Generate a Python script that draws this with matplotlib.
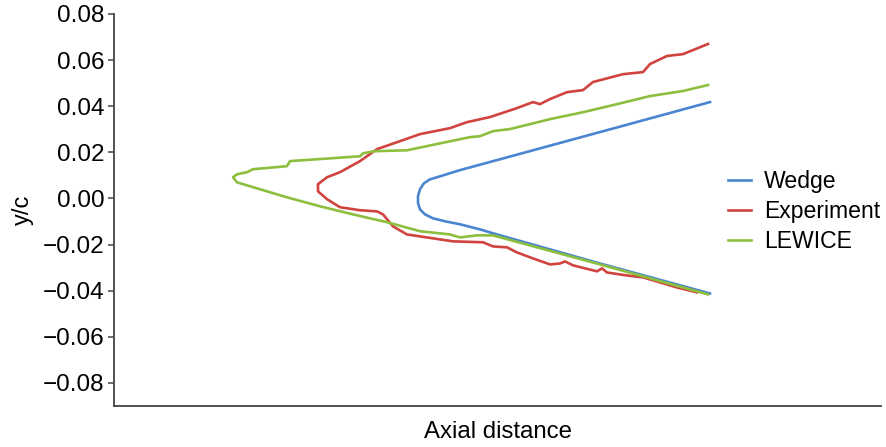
import matplotlib
matplotlib.use("Agg")
import matplotlib.pyplot as plt

plt.rcParams['font.family'] = ['Liberation Sans', 'DejaVu Sans']

# Wedge contour
wedge_x = [596, 486, 386, 346, 326, 316, 310, 306, 304, 304, 306, 311, 319, 331, 346, 366, 383, 486, 596]
wedge_y = [0.0418, 0.0288, 0.0170, 0.0123, 0.0096, 0.0083, 0.0066, 0.0040, 0.0010, -0.0021,
           -0.0047, -0.0069, -0.0086, -0.0099, -0.0112, -0.0134, -0.0156, -0.0282, -0.0412]

# Experiment ice shape
exp_x = [594, 569, 553, 536, 529, 509, 479, 469, 453, 436, 426, 419, 403, 376, 353, 336, 306, 283,
         263, 246, 226, 213, 204, 204, 213, 226, 246, 263, 269, 279, 293, 313, 339, 369, 379, 393,
         403, 419, 436, 446, 451, 459, 483, 488, 493, 513, 529, 543, 563, 583]
exp_y = [0.0670, 0.0626, 0.0618, 0.0583, 0.0548, 0.0539, 0.0505, 0.0470, 0.0461, 0.0431, 0.0409,
         0.0418, 0.0392, 0.0353, 0.0331, 0.0305, 0.0279, 0.0244, 0.0214, 0.0162, 0.0114, 0.0092,
         0.0062, 0.0031, -0.0003, -0.0038, -0.0051, -0.0056, -0.0069, -0.0121, -0.0156, -0.0169,
         -0.0186, -0.0190, -0.0208, -0.0212, -0.0234, -0.0260, -0.0286, -0.0282, -0.0273, -0.0290,
         -0.0316, -0.0303, -0.0321, -0.0334, -0.0342, -0.0360, -0.0386, -0.0407]

# LEWICE ice shape
lew_x = [594, 569, 536, 503, 469, 436, 396, 379, 366, 356, 336, 293, 261, 249, 246, 176, 173, 139,
         133, 123, 119, 123, 139, 173, 206, 239, 273, 306, 336, 346, 363, 379, 486, 594]
lew_y = [0.0492, 0.0466, 0.0444, 0.0409, 0.0374, 0.0344, 0.0301, 0.0292, 0.0270, 0.0266, 0.0248,
         0.0209, 0.0205, 0.0196, 0.0183, 0.0162, 0.0140, 0.0127, 0.0114, 0.0105, 0.0092, 0.0070,
         0.0049, 0.0005, -0.0034, -0.0069, -0.0103, -0.0142, -0.0156, -0.0169, -0.0160, -0.0160,
         -0.0286, -0.0416]

yticks = [-0.08, -0.06, -0.04, -0.02, 0.00, 0.02, 0.04, 0.06, 0.08]

fig = plt.figure(figsize=(8.86, 4.47), dpi=100)
ax = fig.add_axes([114/886, 1-406/447, (881-114)/886, (406-14)/447])

lw = 1.9
ax.plot(wedge_x, wedge_y, color='#4A86CF', lw=lw, label='Wedge', solid_joinstyle='round')
ax.plot(exp_x, exp_y, color='#D0433F', lw=lw, label='Experiment', solid_joinstyle='round')
ax.plot(lew_x, lew_y, color='#8DBF3F', lw=lw, label='LEWICE', solid_joinstyle='round')

ax.set_xlim(0, 767)
ax.set_ylim(-0.09, 0.08)
ax.set_yticks(yticks)
ax.set_yticklabels([f"{t:.2f}".replace('-', '\u2212') for t in yticks])
ax.set_xticks([])
for s in ['top', 'right']:
    ax.spines[s].set_visible(False)
for s in ['left', 'bottom']:
    ax.spines[s].set_color('#444444')
    ax.spines[s].set_linewidth(1.3)
ax.tick_params(axis='y', direction='out', length=4, width=1.1, color='#444444',
               labelsize=17.5, pad=3)
ax.set_ylabel('y/c', fontsize=17, labelpad=6)
ax.set_xlabel('Axial distance', fontsize=17.3, labelpad=11)

leg = ax.legend(loc='center left', bbox_to_anchor=(0.8005, 0.497), frameon=False,
                fontsize=16.6, handlelength=1.0, handletextpad=0.55, labelspacing=0.3,
                borderpad=0, borderaxespad=0)

fig.savefig('out.png', dpi=100)
